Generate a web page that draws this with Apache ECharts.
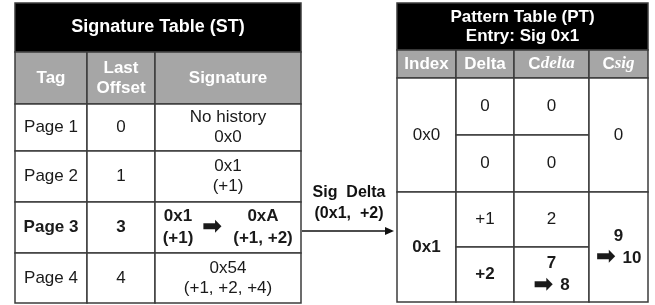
<!DOCTYPE html>
<html>
<head>
<meta charset="utf-8">
<script src="https://cdn.jsdelivr.net/npm/echarts@6/dist/echarts.min.js"></script>
<style>
  html, body { margin: 0; padding: 0; background: #fff; }
  #main { width: 655px; height: 305px; }
</style>
</head>
<body>
<div id="main"></div>
<script>
// table contents
const stTitle = 'Signature Table (ST)';
const stHeaders = ['Tag', 'Last\nOffset', 'Signature'];
const stTags = ['Page 1', 'Page 2', 'Page 3', 'Page 4'];
const stOffsets = ['0', '1', '3', '4'];
const stSignatures = ['No history\n0x0', '0x1\n(+1)', '', '0x54\n(+1, +2, +4)'];
const stUpdate = ['0x1\n(+1)', '➡', '0xA\n(+1, +2)'];
const stBoldRow = 2;

const ptTitle = 'Pattern Table (PT)\nEntry: Sig 0x1';
const ptHeaders = ['Index', 'Delta', 'C{i|delta}', 'C{i|sig}'];
const ptIndex = ['0x0', '0x1'];
const ptDeltas = [['0', '0'], ['+1', '+2']];
const ptCdelta = [['0', '0'], ['2', '7\n➡ 8']];
const ptCsig = ['0', '9\n➡ 10'];
const ptBoldRow = 1;

const arrowLabel = 'Sig  Delta\n(0x1,  +2)';

// layout (in axis units = pixels)
const stX = [15, 87, 155, 301];
const stY = [3, 52, 104, 151, 202, 253, 303];
const stUpdX = [155, 201, 225, 301];
const ptX = [397, 456, 514, 589, 648];
const ptY = [3, 50, 78, 192, 302];
const ptSplit = [135, 247];

const FONT = '"Liberation Sans", Arial, sans-serif';
const lineColor = '#3c3c3c';
const grayFill = '#a6a6a6';
const textColor = '#1a1a1a';

let cells = [];
function cell(x0, y0, x1, y1, text, opt) {
    cells.push(Object.assign({ x0, y0, x1, y1, text, fill: '#fff', color: textColor,
        weight: 'normal', size: 17, lh: 20, border: true }, opt || {}));
}

// signature table
cell(stX[0], stY[0], stX[3], stY[1], stTitle, { fill: '#000', color: '#fff', weight: 'bold', size: 18 });
stHeaders.forEach((h, i) => {
    cell(stX[i], stY[1], stX[i + 1], stY[2], h, { fill: grayFill, color: '#fff', weight: 'bold' });
});
stTags.forEach((t, r) => {
    const w = r === stBoldRow ? 'bold' : 'normal';
    cell(stX[0], stY[r + 2], stX[1], stY[r + 3], t, { weight: w });
    cell(stX[1], stY[r + 2], stX[2], stY[r + 3], stOffsets[r], { weight: w });
    cell(stX[2], stY[r + 2], stX[3], stY[r + 3], stSignatures[r], { weight: w });
});
// updated signature in bold row
const ry0 = stY[stBoldRow + 2], ry1 = stY[stBoldRow + 3];
cell(stUpdX[0], ry0, stUpdX[1], ry1, stUpdate[0], { border: false, fill: null, weight: 'bold', lh: 22 });
cell(stUpdX[1], ry0, stUpdX[2], ry1, stUpdate[1], { border: false, fill: null, weight: 'bold' });
cell(stUpdX[2], ry0, stUpdX[3], ry1, stUpdate[2], { border: false, fill: null, weight: 'bold', lh: 22 });

// pattern table
cell(ptX[0], ptY[0], ptX[4], ptY[1], ptTitle, { fill: '#000', color: '#fff', weight: 'bold', size: 17, lh: 19 });
ptHeaders.forEach((h, i) => {
    cell(ptX[i], ptY[1], ptX[i + 1], ptY[2], h, { fill: grayFill, color: '#fff', weight: 'bold' });
});
ptIndex.forEach((idx, r) => {
    const w = r === ptBoldRow ? 'bold' : 'normal';
    const y0 = ptY[r + 2], y1 = ptY[r + 3], ym = ptSplit[r];
    cell(ptX[0], y0, ptX[1], y1, idx, { weight: w });
    cell(ptX[1], y0, ptX[2], ym, ptDeltas[r][0]);
    cell(ptX[2], y0, ptX[3], ym, ptCdelta[r][0]);
    cell(ptX[1], ym, ptX[2], y1, ptDeltas[r][1], { weight: w });
    cell(ptX[2], ym, ptX[3], y1, ptCdelta[r][1], { weight: w, lh: 22 });
    cell(ptX[3], y0, ptX[4], y1, ptCsig[r], { weight: w, lh: 22 });
});

// arrow between tables
cell(stX[3], 182, ptX[0], 224, arrowLabel, { border: false, fill: null, weight: 'bold', size: 16, lh: 21, color: '#111' });
cells.push({ kind: 'arrow', x0: stX[3] + 1, y0: 231, x1: ptX[0] - 3, y1: 231 });

function renderItem(params, api) {
    const c = cells[params.dataIndex];
    const p0 = api.coord([api.value(0), api.value(1)]);
    const p1 = api.coord([api.value(2), api.value(3)]);
    if (c.kind === 'arrow') {
        return {
            type: 'group',
            children: [
                { type: 'line', shape: { x1: p0[0], y1: p0[1], x2: p1[0] - 6, y2: p1[1] },
                  style: { stroke: '#111', lineWidth: 1.5 } },
                { type: 'polygon', shape: { points: [[p1[0], p1[1]], [p1[0] - 9, p1[1] - 4], [p1[0] - 9, p1[1] + 4]] },
                  style: { fill: '#111' } }
            ]
        };
    }
    return {
        type: 'rect',
        shape: { x: p0[0], y: p0[1], width: p1[0] - p0[0], height: p1[1] - p0[1] },
        style: { fill: c.fill || 'transparent', stroke: c.border ? lineColor : null, lineWidth: 1.5 },
        textContent: {
            style: {
                text: c.text.replace(/➡/g, '{a|➡}'),
                fill: c.color,
                fontFamily: FONT,
                fontSize: c.size,
                fontWeight: c.weight,
                lineHeight: c.lh,
                align: 'center',
                verticalAlign: 'middle',
                rich: {
                    i: { fontFamily: '"Liberation Serif", "Times New Roman", serif', fontStyle: 'italic',
                         fontWeight: 'bold', fontSize: c.size, fill: c.color, lineHeight: c.lh },
                    a: { fontFamily: '"DejaVu Sans", sans-serif', fontWeight: 'bold', fontSize: 24,
                         fill: c.color, lineHeight: c.lh, padding: [0, 2, 0, 0] }
                }
            }
        },
        textConfig: { position: 'inside' }
    };
}

const myChart = echarts.init(document.getElementById('main'));
myChart.setOption({
    animation: false,
    grid: { left: 0, right: 0, top: 0, bottom: 0 },
    xAxis: { type: 'value', min: 0, max: 655, show: false },
    yAxis: { type: 'value', min: 0, max: 305, inverse: true, show: false },
    series: [{
        type: 'custom',
        renderItem: renderItem,
        data: cells.map(c => [c.x0, c.y0, c.x1, c.y1])
    }]
});
</script>
</body>
</html>
